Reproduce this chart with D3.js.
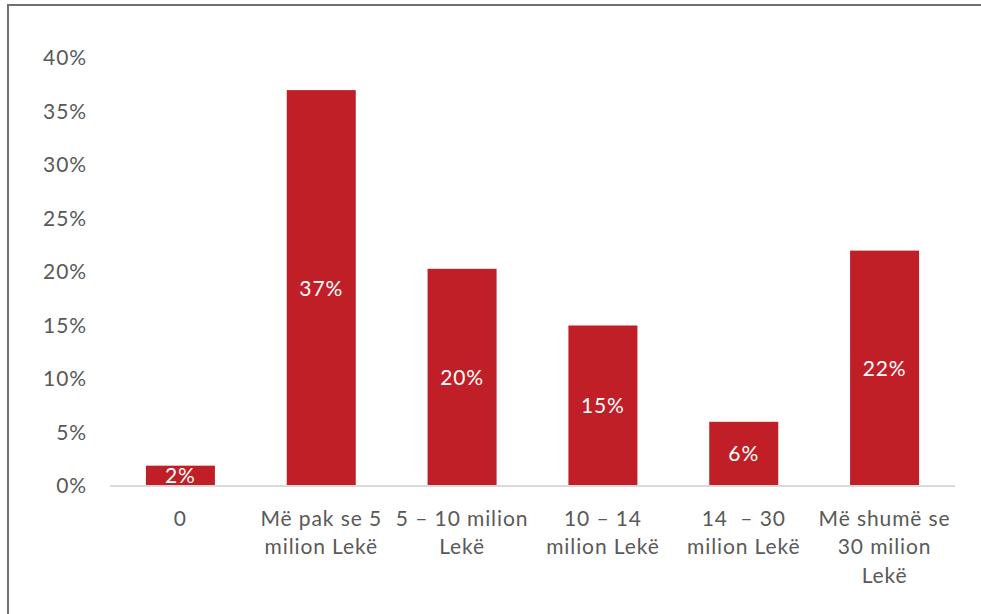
<!DOCTYPE html>
<html>
<head>
<meta charset="utf-8">
<script src="https://cdn.jsdelivr.net/npm/d3@7"></script>
<style>
  html, body { margin: 0; padding: 0; background: #ffffff; }
  svg { display: block; }
  text { font-family: Lato, "Open Sans", sans-serif; letter-spacing: 0.9px; }
</style>
</head>
<body>
<svg id="chart" width="981" height="614"></svg>
<script>
// Income bands (each entry = lines of the wrapped axis label)
const categories = [
  ["0"],
  ["Më pak se 5", "milion Lekë"],
  ["5 – 10 milion", "Lekë"],
  ["10 – 14", "milion Lekë"],
  ["14  – 30", "milion Lekë"],
  ["Më shumë se", "30 milion", "Lekë"]
];
// Share of respondents in each band (percent)
const shares = [1.9, 37.0, 20.3, 15.0, 6.0, 22.0];
const yTicks = [0, 5, 10, 15, 20, 25, 30, 35, 40];

const barColor = "#c11f27";
const textColor = "#595959";
const fontSize = "21px";

const svg = d3.select("#chart");

// outer frame
svg.append("rect")
  .attr("x", 8).attr("y", 5)
  .attr("width", 1000).attr("height", 700)
  .attr("fill", "none")
  .attr("stroke", "#6f6f6f")
  .attr("stroke-width", 2);

const keys = categories.map((c, i) => i);
const x = d3.scaleBand().domain(keys).range([110, 955]).paddingInner(0.51).paddingOuter(0.255);
const y = d3.scaleLinear().domain([0, 40]).range([486, 58]);

// y axis labels (no axis line, no ticks)
const yAxis = svg.append("g")
  .attr("transform", "translate(110,0)")
  .call(d3.axisLeft(y).tickValues(yTicks).tickSize(0).tickPadding(23).tickFormat(d => d + "%"));
yAxis.select(".domain").remove();
yAxis.selectAll("text")
  .attr("fill", textColor)
  .style("font-size", fontSize);

// bars
svg.append("g").selectAll("rect")
  .data(shares)
  .join("rect")
  .attr("x", (d, i) => x(i))
  .attr("y", d => y(d))
  .attr("width", x.bandwidth())
  .attr("height", d => y(0) - y(d))
  .attr("fill", barColor);

// baseline
svg.append("line")
  .attr("x1", 110).attr("x2", 955)
  .attr("y1", y(0)).attr("y2", y(0))
  .attr("stroke", "#d9d9d9")
  .attr("stroke-width", 2);

// value labels centred in each bar
svg.append("g").selectAll("text")
  .data(shares)
  .join("text")
  .attr("x", (d, i) => x(i) + x.bandwidth() / 2)
  .attr("y", d => (y(d) + y(0)) / 2)
  .attr("dy", "0.36em")
  .attr("text-anchor", "middle")
  .attr("fill", "#ffffff")
  .style("font-size", fontSize)
  .text(d => Math.round(d) + "%");

// x axis labels, wrapped over several lines
const xAxis = svg.append("g")
  .attr("transform", `translate(0,${y(0)})`)
  .call(d3.axisBottom(x).tickSize(0).tickFormat(""));
xAxis.select(".domain").remove();
xAxis.selectAll(".tick").each(function (i) {
  const t = d3.select(this).append("text")
    .attr("fill", textColor)
    .attr("text-anchor", "middle")
    .style("font-size", fontSize);
  categories[i].forEach((line, k) => {
    t.append("tspan")
      .attr("x", 0)
      .attr("y", 32 + k * 28.5)
      .attr("dy", "0.36em")
      .style("white-space", "pre")
      .text(line);
  });
});
</script>
</body>
</html>
